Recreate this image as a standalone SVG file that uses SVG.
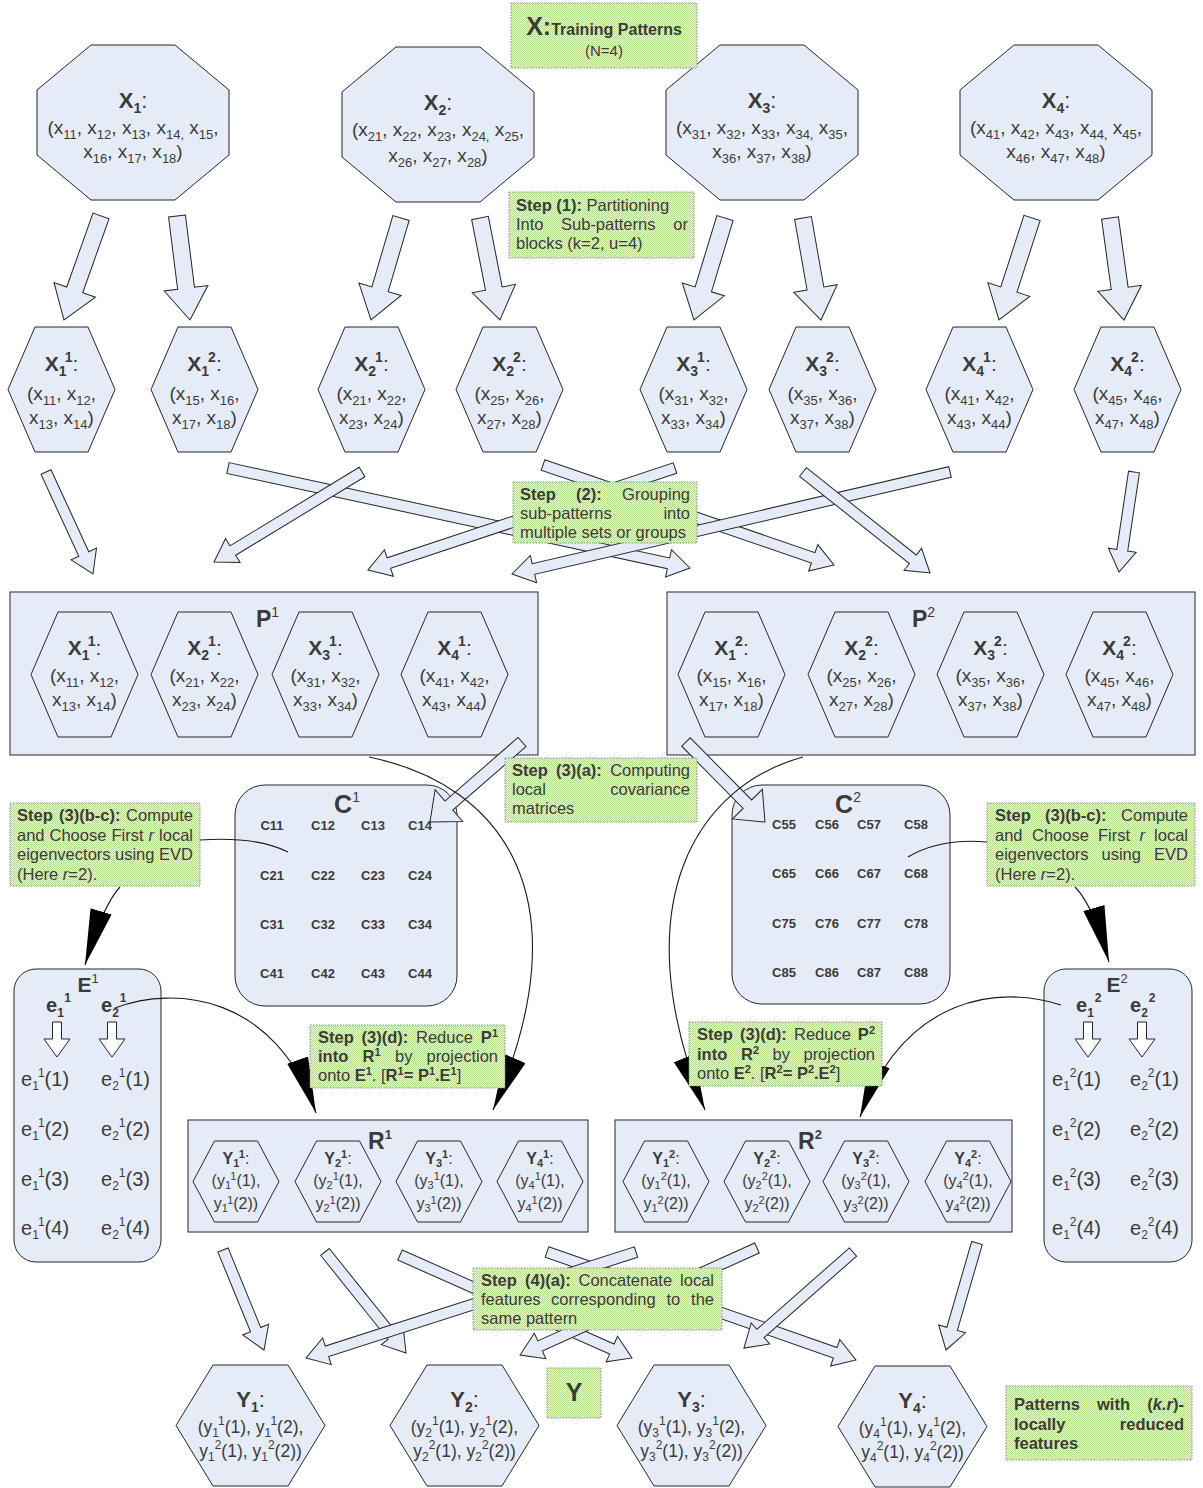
<svg xmlns="http://www.w3.org/2000/svg" width="1203" height="1488" viewBox="0 0 1203 1488">
<defs>
<style>
text{font-family:"Liberation Sans",Arial,Helvetica,sans-serif;fill:#3b3b3b}
.nd{fill:#E6ECF7;stroke:#262626;stroke-width:1}
.nt{fill:url(#dots);stroke:#7f9470;stroke-width:1;stroke-dasharray:1.5 1.5}
.ba{fill:#E6ECF7;stroke:#262626;stroke-width:1}
.cv{fill:none;stroke:#1a1a1a;stroke-width:1.1}
.da{fill:#fff;stroke:#262626;stroke-width:1}
.c{text-anchor:middle}
.e{text-anchor:end}
.b{font-weight:bold}
.r{font-weight:normal}
.i{font-style:italic}
.ol{font-size:19px;text-anchor:middle}
.olb{font-size:22px;font-weight:bold;text-anchor:middle}
.hlb{font-size:21px;font-weight:bold;text-anchor:middle}
.s{font-size:13px}
.sb{font-size:14px}
.nf{font-size:16.5px}
.cg{font-size:13px;font-weight:bold;text-anchor:middle}
.ef{font-size:20px}
.rl{font-size:16px;text-anchor:middle}
.rlb{font-size:16px;font-weight:bold;text-anchor:middle}
.ss{font-size:12px}
.sr{font-size:11px}
.sp{font-size:11px}
.yl{font-size:17.5px;text-anchor:middle}
.ylb{font-size:22px;font-weight:bold;text-anchor:middle}
</style>
<pattern id="dots" width="2" height="2" patternUnits="userSpaceOnUse">
<rect width="2" height="2" fill="#EEF7E4"/>
<rect width="1" height="1" fill="#B3D98C"/>
<rect x="1" y="1" width="1" height="1" fill="#B3D98C"/>
</pattern>
<polygon id="oc" points="54,0 138,0 192,45 192,110 138,155 54,155 0,110 0,45"/>
<polygon id="hx" points="27,0 80,0 107,62.5 80,125 27,125 0,62.5"/>
<polygon id="hr" points="21.5,0 64.5,0 86,40.5 64.5,81 21.5,81 0,40.5"/>
<polygon id="hy" points="37,0 112,0 149,60.5 112,121 37,121 0,60.5"/>
<polygon id="da" points="-4.5,0 4.5,0 4.5,17 13,17 0,35 -13,17 -4.5,17"/>
<marker id="ah" viewBox="0 0 56 22" refX="56" refY="11" markerWidth="56" markerHeight="22" markerUnits="userSpaceOnUse" orient="auto">
<path d="M0,0 L56,11 L0,22 z" fill="#000"/>
</marker>
</defs>
<rect width="1203" height="1488" fill="#fff"/>

<!-- training patterns (octagons) -->
<g id="X1">
<use href="#oc" x="37" y="45" class="nd"/>
<text class="olb" x="133" y="108">X<tspan class="sb" dy="5">1</tspan><tspan class="r" dy="-5">:</tspan></text>
<text class="ol" x="133" y="134">(x<tspan class="s" dy="5">11</tspan><tspan dy="-5">, x</tspan><tspan class="s" dy="5">12</tspan><tspan dy="-5">, x</tspan><tspan class="s" dy="5">13</tspan><tspan dy="-5">, x</tspan><tspan class="s" dy="5">14,</tspan><tspan dy="-5"> x</tspan><tspan class="s" dy="5">15</tspan><tspan dy="-5">,</tspan></text>
<text class="ol" x="133" y="158">x<tspan class="s" dy="5">16</tspan><tspan dy="-5">, x</tspan><tspan class="s" dy="5">17</tspan><tspan dy="-5">, x</tspan><tspan class="s" dy="5">18</tspan><tspan dy="-5">)</tspan></text>
</g>
<g id="X2">
<use href="#oc" x="342" y="47" class="nd"/>
<text class="olb" x="438" y="110">X<tspan class="sb" dy="5">2</tspan><tspan class="r" dy="-5">:</tspan></text>
<text class="ol" x="438" y="136">(x<tspan class="s" dy="5">21</tspan><tspan dy="-5">, x</tspan><tspan class="s" dy="5">22</tspan><tspan dy="-5">, x</tspan><tspan class="s" dy="5">23</tspan><tspan dy="-5">, x</tspan><tspan class="s" dy="5">24,</tspan><tspan dy="-5"> x</tspan><tspan class="s" dy="5">25</tspan><tspan dy="-5">,</tspan></text>
<text class="ol" x="438" y="162">x<tspan class="s" dy="5">26</tspan><tspan dy="-5">, x</tspan><tspan class="s" dy="5">27</tspan><tspan dy="-5">, x</tspan><tspan class="s" dy="5">28</tspan><tspan dy="-5">)</tspan></text>
</g>
<g id="X3">
<use href="#oc" x="666" y="45" class="nd"/>
<text class="olb" x="762" y="108">X<tspan class="sb" dy="5">3</tspan><tspan class="r" dy="-5">:</tspan></text>
<text class="ol" x="762" y="134">(x<tspan class="s" dy="5">31</tspan><tspan dy="-5">, x</tspan><tspan class="s" dy="5">32</tspan><tspan dy="-5">, x</tspan><tspan class="s" dy="5">33</tspan><tspan dy="-5">, x</tspan><tspan class="s" dy="5">34,</tspan><tspan dy="-5"> x</tspan><tspan class="s" dy="5">35</tspan><tspan dy="-5">,</tspan></text>
<text class="ol" x="762" y="158">x<tspan class="s" dy="5">36</tspan><tspan dy="-5">, x</tspan><tspan class="s" dy="5">37</tspan><tspan dy="-5">, x</tspan><tspan class="s" dy="5">38</tspan><tspan dy="-5">)</tspan></text>
</g>
<g id="X4">
<use href="#oc" x="960" y="45" class="nd"/>
<text class="olb" x="1056" y="108">X<tspan class="sb" dy="5">4</tspan><tspan class="r" dy="-5">:</tspan></text>
<text class="ol" x="1056" y="134">(x<tspan class="s" dy="5">41</tspan><tspan dy="-5">, x</tspan><tspan class="s" dy="5">42</tspan><tspan dy="-5">, x</tspan><tspan class="s" dy="5">43</tspan><tspan dy="-5">, x</tspan><tspan class="s" dy="5">44,</tspan><tspan dy="-5"> x</tspan><tspan class="s" dy="5">45</tspan><tspan dy="-5">,</tspan></text>
<text class="ol" x="1056" y="158">x<tspan class="s" dy="5">46</tspan><tspan dy="-5">, x</tspan><tspan class="s" dy="5">47</tspan><tspan dy="-5">, x</tspan><tspan class="s" dy="5">48</tspan><tspan dy="-5">)</tspan></text>
</g>

<!-- sub-patterns (hexagons) -->
<g id="X1_1">
<use href="#hx" x="8" y="327" class="nd"/>
<text class="hlb" x="61.5" y="371">X<tspan class="sb" dy="5">1</tspan><tspan class="sb" dx="-1" dy="-14">1</tspan><tspan class="r" dy="9">:</tspan></text>
<text class="ol" x="61.5" y="400">(x<tspan class="s" dy="5">11</tspan><tspan dy="-5">, x</tspan><tspan class="s" dy="5">12</tspan><tspan dy="-5">,</tspan></text>
<text class="ol" x="61.5" y="424">x<tspan class="s" dy="5">13</tspan><tspan dy="-5">, x</tspan><tspan class="s" dy="5">14</tspan><tspan dy="-5">)</tspan></text>
</g>
<g id="X1_2">
<use href="#hx" x="151" y="327" class="nd"/>
<text class="hlb" x="204.5" y="371">X<tspan class="sb" dy="5">1</tspan><tspan class="sb" dx="-1" dy="-14">2</tspan><tspan class="r" dy="9">:</tspan></text>
<text class="ol" x="204.5" y="400">(x<tspan class="s" dy="5">15</tspan><tspan dy="-5">, x</tspan><tspan class="s" dy="5">16</tspan><tspan dy="-5">,</tspan></text>
<text class="ol" x="204.5" y="424">x<tspan class="s" dy="5">17</tspan><tspan dy="-5">, x</tspan><tspan class="s" dy="5">18</tspan><tspan dy="-5">)</tspan></text>
</g>
<g id="X2_1">
<use href="#hx" x="318" y="327" class="nd"/>
<text class="hlb" x="371.5" y="371">X<tspan class="sb" dy="5">2</tspan><tspan class="sb" dx="-1" dy="-14">1</tspan><tspan class="r" dy="9">:</tspan></text>
<text class="ol" x="371.5" y="400">(x<tspan class="s" dy="5">21</tspan><tspan dy="-5">, x</tspan><tspan class="s" dy="5">22</tspan><tspan dy="-5">,</tspan></text>
<text class="ol" x="371.5" y="424">x<tspan class="s" dy="5">23</tspan><tspan dy="-5">, x</tspan><tspan class="s" dy="5">24</tspan><tspan dy="-5">)</tspan></text>
</g>
<g id="X2_2">
<use href="#hx" x="456" y="327" class="nd"/>
<text class="hlb" x="509.5" y="371">X<tspan class="sb" dy="5">2</tspan><tspan class="sb" dx="-1" dy="-14">2</tspan><tspan class="r" dy="9">:</tspan></text>
<text class="ol" x="509.5" y="400">(x<tspan class="s" dy="5">25</tspan><tspan dy="-5">, x</tspan><tspan class="s" dy="5">26</tspan><tspan dy="-5">,</tspan></text>
<text class="ol" x="509.5" y="424">x<tspan class="s" dy="5">27</tspan><tspan dy="-5">, x</tspan><tspan class="s" dy="5">28</tspan><tspan dy="-5">)</tspan></text>
</g>
<g id="X3_1">
<use href="#hx" x="640" y="327" class="nd"/>
<text class="hlb" x="693.5" y="371">X<tspan class="sb" dy="5">3</tspan><tspan class="sb" dx="-1" dy="-14">1</tspan><tspan class="r" dy="9">:</tspan></text>
<text class="ol" x="693.5" y="400">(x<tspan class="s" dy="5">31</tspan><tspan dy="-5">, x</tspan><tspan class="s" dy="5">32</tspan><tspan dy="-5">,</tspan></text>
<text class="ol" x="693.5" y="424">x<tspan class="s" dy="5">33</tspan><tspan dy="-5">, x</tspan><tspan class="s" dy="5">34</tspan><tspan dy="-5">)</tspan></text>
</g>
<g id="X3_2">
<use href="#hx" x="769" y="327" class="nd"/>
<text class="hlb" x="822.5" y="371">X<tspan class="sb" dy="5">3</tspan><tspan class="sb" dx="-1" dy="-14">2</tspan><tspan class="r" dy="9">:</tspan></text>
<text class="ol" x="822.5" y="400">(x<tspan class="s" dy="5">35</tspan><tspan dy="-5">, x</tspan><tspan class="s" dy="5">36</tspan><tspan dy="-5">,</tspan></text>
<text class="ol" x="822.5" y="424">x<tspan class="s" dy="5">37</tspan><tspan dy="-5">, x</tspan><tspan class="s" dy="5">38</tspan><tspan dy="-5">)</tspan></text>
</g>
<g id="X4_1">
<use href="#hx" x="926" y="327" class="nd"/>
<text class="hlb" x="979.5" y="371">X<tspan class="sb" dy="5">4</tspan><tspan class="sb" dx="-1" dy="-14">1</tspan><tspan class="r" dy="9">:</tspan></text>
<text class="ol" x="979.5" y="400">(x<tspan class="s" dy="5">41</tspan><tspan dy="-5">, x</tspan><tspan class="s" dy="5">42</tspan><tspan dy="-5">,</tspan></text>
<text class="ol" x="979.5" y="424">x<tspan class="s" dy="5">43</tspan><tspan dy="-5">, x</tspan><tspan class="s" dy="5">44</tspan><tspan dy="-5">)</tspan></text>
</g>
<g id="X4_2">
<use href="#hx" x="1074" y="327" class="nd"/>
<text class="hlb" x="1127.5" y="371">X<tspan class="sb" dy="5">4</tspan><tspan class="sb" dx="-1" dy="-14">2</tspan><tspan class="r" dy="9">:</tspan></text>
<text class="ol" x="1127.5" y="400">(x<tspan class="s" dy="5">45</tspan><tspan dy="-5">, x</tspan><tspan class="s" dy="5">46</tspan><tspan dy="-5">,</tspan></text>
<text class="ol" x="1127.5" y="424">x<tspan class="s" dy="5">47</tspan><tspan dy="-5">, x</tspan><tspan class="s" dy="5">48</tspan><tspan dy="-5">)</tspan></text>
</g>

<!-- group P1 -->
<g id="P1">
<rect x="10" y="592" width="528" height="163" class="nd"/>
<text x="256" y="627" class="b" font-size="23">P<tspan class="r" font-size="14" dy="-10">1</tspan></text>
<use href="#hx" x="31" y="612" class="nd"/>
<text class="hlb" x="84.5" y="655">X<tspan class="sb" dy="5">1</tspan><tspan class="sb" dx="-1" dy="-14">1</tspan><tspan class="r" dy="9">:</tspan></text>
<text class="ol" x="84.5" y="682">(x<tspan class="s" dy="5">11</tspan><tspan dy="-5">, x</tspan><tspan class="s" dy="5">12</tspan><tspan dy="-5">,</tspan></text>
<text class="ol" x="84.5" y="706">x<tspan class="s" dy="5">13</tspan><tspan dy="-5">, x</tspan><tspan class="s" dy="5">14</tspan><tspan dy="-5">)</tspan></text>
<use href="#hx" x="151" y="612" class="nd"/>
<text class="hlb" x="204.5" y="655">X<tspan class="sb" dy="5">2</tspan><tspan class="sb" dx="-1" dy="-14">1</tspan><tspan class="r" dy="9">:</tspan></text>
<text class="ol" x="204.5" y="682">(x<tspan class="s" dy="5">21</tspan><tspan dy="-5">, x</tspan><tspan class="s" dy="5">22</tspan><tspan dy="-5">,</tspan></text>
<text class="ol" x="204.5" y="706">x<tspan class="s" dy="5">23</tspan><tspan dy="-5">, x</tspan><tspan class="s" dy="5">24</tspan><tspan dy="-5">)</tspan></text>
<use href="#hx" x="272" y="612" class="nd"/>
<text class="hlb" x="325.5" y="655">X<tspan class="sb" dy="5">3</tspan><tspan class="sb" dx="-1" dy="-14">1</tspan><tspan class="r" dy="9">:</tspan></text>
<text class="ol" x="325.5" y="682">(x<tspan class="s" dy="5">31</tspan><tspan dy="-5">, x</tspan><tspan class="s" dy="5">32</tspan><tspan dy="-5">,</tspan></text>
<text class="ol" x="325.5" y="706">x<tspan class="s" dy="5">33</tspan><tspan dy="-5">, x</tspan><tspan class="s" dy="5">34</tspan><tspan dy="-5">)</tspan></text>
<use href="#hx" x="401" y="612" class="nd"/>
<text class="hlb" x="454.5" y="655">X<tspan class="sb" dy="5">4</tspan><tspan class="sb" dx="-1" dy="-14">1</tspan><tspan class="r" dy="9">:</tspan></text>
<text class="ol" x="454.5" y="682">(x<tspan class="s" dy="5">41</tspan><tspan dy="-5">, x</tspan><tspan class="s" dy="5">42</tspan><tspan dy="-5">,</tspan></text>
<text class="ol" x="454.5" y="706">x<tspan class="s" dy="5">43</tspan><tspan dy="-5">, x</tspan><tspan class="s" dy="5">44</tspan><tspan dy="-5">)</tspan></text>
</g>

<!-- group P2 -->
<g id="P2">
<rect x="667" y="592" width="528" height="163" class="nd"/>
<text x="912" y="627" class="b" font-size="23">P<tspan class="r" font-size="14" dy="-10">2</tspan></text>
<use href="#hx" x="678" y="612" class="nd"/>
<text class="hlb" x="731.5" y="655">X<tspan class="sb" dy="5">1</tspan><tspan class="sb" dx="-1" dy="-14">2</tspan><tspan class="r" dy="9">:</tspan></text>
<text class="ol" x="731.5" y="682">(x<tspan class="s" dy="5">15</tspan><tspan dy="-5">, x</tspan><tspan class="s" dy="5">16</tspan><tspan dy="-5">,</tspan></text>
<text class="ol" x="731.5" y="706">x<tspan class="s" dy="5">17</tspan><tspan dy="-5">, x</tspan><tspan class="s" dy="5">18</tspan><tspan dy="-5">)</tspan></text>
<use href="#hx" x="808" y="612" class="nd"/>
<text class="hlb" x="861.5" y="655">X<tspan class="sb" dy="5">2</tspan><tspan class="sb" dx="-1" dy="-14">2</tspan><tspan class="r" dy="9">:</tspan></text>
<text class="ol" x="861.5" y="682">(x<tspan class="s" dy="5">25</tspan><tspan dy="-5">, x</tspan><tspan class="s" dy="5">26</tspan><tspan dy="-5">,</tspan></text>
<text class="ol" x="861.5" y="706">x<tspan class="s" dy="5">27</tspan><tspan dy="-5">, x</tspan><tspan class="s" dy="5">28</tspan><tspan dy="-5">)</tspan></text>
<use href="#hx" x="937" y="612" class="nd"/>
<text class="hlb" x="990.5" y="655">X<tspan class="sb" dy="5">3</tspan><tspan class="sb" dx="-1" dy="-14">2</tspan><tspan class="r" dy="9">:</tspan></text>
<text class="ol" x="990.5" y="682">(x<tspan class="s" dy="5">35</tspan><tspan dy="-5">, x</tspan><tspan class="s" dy="5">36</tspan><tspan dy="-5">,</tspan></text>
<text class="ol" x="990.5" y="706">x<tspan class="s" dy="5">37</tspan><tspan dy="-5">, x</tspan><tspan class="s" dy="5">38</tspan><tspan dy="-5">)</tspan></text>
<use href="#hx" x="1066" y="612" class="nd"/>
<text class="hlb" x="1119.5" y="655">X<tspan class="sb" dy="5">4</tspan><tspan class="sb" dx="-1" dy="-14">2</tspan><tspan class="r" dy="9">:</tspan></text>
<text class="ol" x="1119.5" y="682">(x<tspan class="s" dy="5">45</tspan><tspan dy="-5">, x</tspan><tspan class="s" dy="5">46</tspan><tspan dy="-5">,</tspan></text>
<text class="ol" x="1119.5" y="706">x<tspan class="s" dy="5">47</tspan><tspan dy="-5">, x</tspan><tspan class="s" dy="5">48</tspan><tspan dy="-5">)</tspan></text>
</g>

<!-- covariance matrices -->
<g id="C1">
<rect x="235" y="785" width="222" height="221" rx="30" class="nd"/>
<text x="347" y="813" class="c b" font-size="25">C<tspan class="r" font-size="14" dy="-11">1</tspan></text>
<text class="cg" x="272" y="830">C11</text><text class="cg" x="323" y="830">C12</text><text class="cg" x="373" y="830">C13</text><text class="cg" x="420" y="830">C14</text>
<text class="cg" x="272" y="880">C21</text><text class="cg" x="323" y="880">C22</text><text class="cg" x="373" y="880">C23</text><text class="cg" x="420" y="880">C24</text>
<text class="cg" x="272" y="929">C31</text><text class="cg" x="323" y="929">C32</text><text class="cg" x="373" y="929">C33</text><text class="cg" x="420" y="929">C34</text>
<text class="cg" x="272" y="978">C41</text><text class="cg" x="323" y="978">C42</text><text class="cg" x="373" y="978">C43</text><text class="cg" x="420" y="978">C44</text>
</g>
<g id="C2">
<rect x="732" y="785" width="218" height="219" rx="30" class="nd"/>
<text x="848" y="813" class="c b" font-size="25">C<tspan class="r" font-size="14" dy="-11">2</tspan></text>
<text class="cg" x="784" y="829">C55</text><text class="cg" x="827" y="829">C56</text><text class="cg" x="869" y="829">C57</text><text class="cg" x="916" y="829">C58</text>
<text class="cg" x="784" y="878">C65</text><text class="cg" x="827" y="878">C66</text><text class="cg" x="869" y="878">C67</text><text class="cg" x="916" y="878">C68</text>
<text class="cg" x="784" y="928">C75</text><text class="cg" x="827" y="928">C76</text><text class="cg" x="869" y="928">C77</text><text class="cg" x="916" y="928">C78</text>
<text class="cg" x="784" y="977">C85</text><text class="cg" x="827" y="977">C86</text><text class="cg" x="869" y="977">C87</text><text class="cg" x="916" y="977">C88</text>
</g>

<!-- eigenvector sets -->
<g id="E1">
<rect x="14" y="969" width="147" height="293" rx="22" class="nd"/>
<text x="88" y="992" class="c b" font-size="21">E<tspan class="r" font-size="13" dy="-9">1</tspan></text>
<text x="46" y="1012" class="b ef">e<tspan class="ss" dy="5">1</tspan><tspan class="ss" dx="1" dy="-15">1</tspan></text>
<text x="101" y="1012" class="b ef">e<tspan class="ss" dy="5">2</tspan><tspan class="ss" dx="1" dy="-15">1</tspan></text>
<use href="#da" x="57" y="1022" class="da"/>
<use href="#da" x="112" y="1022" class="da"/>
<text x="21" y="1086" class="ef">e<tspan class="ss" dy="4">1</tspan><tspan class="ss" dy="-13">1</tspan><tspan dy="9">(1)</tspan></text>
<text x="101" y="1086" class="ef">e<tspan class="ss" dy="4">2</tspan><tspan class="ss" dy="-13">1</tspan><tspan dy="9">(1)</tspan></text>
<text x="21" y="1136" class="ef">e<tspan class="ss" dy="4">1</tspan><tspan class="ss" dy="-13">1</tspan><tspan dy="9">(2)</tspan></text>
<text x="101" y="1136" class="ef">e<tspan class="ss" dy="4">2</tspan><tspan class="ss" dy="-13">1</tspan><tspan dy="9">(2)</tspan></text>
<text x="21" y="1186" class="ef">e<tspan class="ss" dy="4">1</tspan><tspan class="ss" dy="-13">1</tspan><tspan dy="9">(3)</tspan></text>
<text x="101" y="1186" class="ef">e<tspan class="ss" dy="4">2</tspan><tspan class="ss" dy="-13">1</tspan><tspan dy="9">(3)</tspan></text>
<text x="21" y="1235" class="ef">e<tspan class="ss" dy="4">1</tspan><tspan class="ss" dy="-13">1</tspan><tspan dy="9">(4)</tspan></text>
<text x="101" y="1235" class="ef">e<tspan class="ss" dy="4">2</tspan><tspan class="ss" dy="-13">1</tspan><tspan dy="9">(4)</tspan></text>
</g>
<g id="E2">
<rect x="1044" y="969" width="148" height="293" rx="22" class="nd"/>
<text x="1117" y="992" class="c b" font-size="21">E<tspan class="r" font-size="13" dy="-9">2</tspan></text>
<text x="1076" y="1012" class="b ef">e<tspan class="ss" dy="5">1</tspan><tspan class="ss" dx="1" dy="-15">2</tspan></text>
<text x="1130" y="1012" class="b ef">e<tspan class="ss" dy="5">2</tspan><tspan class="ss" dx="1" dy="-15">2</tspan></text>
<use href="#da" x="1088" y="1022" class="da"/>
<use href="#da" x="1142" y="1022" class="da"/>
<text x="1052" y="1086" class="ef">e<tspan class="ss" dy="4">1</tspan><tspan class="ss" dy="-13">2</tspan><tspan dy="9">(1)</tspan></text>
<text x="1130" y="1086" class="ef">e<tspan class="ss" dy="4">2</tspan><tspan class="ss" dy="-13">2</tspan><tspan dy="9">(1)</tspan></text>
<text x="1052" y="1136" class="ef">e<tspan class="ss" dy="4">1</tspan><tspan class="ss" dy="-13">2</tspan><tspan dy="9">(2)</tspan></text>
<text x="1130" y="1136" class="ef">e<tspan class="ss" dy="4">2</tspan><tspan class="ss" dy="-13">2</tspan><tspan dy="9">(2)</tspan></text>
<text x="1052" y="1186" class="ef">e<tspan class="ss" dy="4">1</tspan><tspan class="ss" dy="-13">2</tspan><tspan dy="9">(3)</tspan></text>
<text x="1130" y="1186" class="ef">e<tspan class="ss" dy="4">2</tspan><tspan class="ss" dy="-13">2</tspan><tspan dy="9">(3)</tspan></text>
<text x="1052" y="1235" class="ef">e<tspan class="ss" dy="4">1</tspan><tspan class="ss" dy="-13">2</tspan><tspan dy="9">(4)</tspan></text>
<text x="1130" y="1235" class="ef">e<tspan class="ss" dy="4">2</tspan><tspan class="ss" dy="-13">2</tspan><tspan dy="9">(4)</tspan></text>
</g>

<!-- reduced groups -->
<g id="R1">
<rect x="188" y="1120" width="400" height="112" class="nd"/>
<text x="380" y="1149" class="c b" font-size="23">R<tspan font-size="13" dy="-10">1</tspan></text>
<use href="#hr" x="193" y="1141" class="nd"/>
<text class="rlb" x="236" y="1164">Y<tspan class="sr" dy="3">1</tspan><tspan class="sr" dy="-9">1</tspan><tspan class="r" dy="6">:</tspan></text>
<text class="rl" x="236" y="1186">(y<tspan class="sr" dy="3">1</tspan><tspan class="sr" dy="-9">1</tspan><tspan dy="6">(1),</tspan></text>
<text class="rl" x="236" y="1209">y<tspan class="sr" dy="3">1</tspan><tspan class="sr" dy="-8">1</tspan><tspan dy="5">(2))</tspan></text>
<use href="#hr" x="295" y="1141" class="nd"/>
<text class="rlb" x="338" y="1164">Y<tspan class="sr" dy="3">2</tspan><tspan class="sr" dy="-9">1</tspan><tspan class="r" dy="6">:</tspan></text>
<text class="rl" x="338" y="1186">(y<tspan class="sr" dy="3">2</tspan><tspan class="sr" dy="-9">1</tspan><tspan dy="6">(1),</tspan></text>
<text class="rl" x="338" y="1209">y<tspan class="sr" dy="3">2</tspan><tspan class="sr" dy="-8">1</tspan><tspan dy="5">(2))</tspan></text>
<use href="#hr" x="396" y="1141" class="nd"/>
<text class="rlb" x="439" y="1164">Y<tspan class="sr" dy="3">3</tspan><tspan class="sr" dy="-9">1</tspan><tspan class="r" dy="6">:</tspan></text>
<text class="rl" x="439" y="1186">(y<tspan class="sr" dy="3">3</tspan><tspan class="sr" dy="-9">1</tspan><tspan dy="6">(1),</tspan></text>
<text class="rl" x="439" y="1209">y<tspan class="sr" dy="3">3</tspan><tspan class="sr" dy="-8">1</tspan><tspan dy="5">(2))</tspan></text>
<use href="#hr" x="497" y="1141" class="nd"/>
<text class="rlb" x="540" y="1164">Y<tspan class="sr" dy="3">4</tspan><tspan class="sr" dy="-9">1</tspan><tspan class="r" dy="6">:</tspan></text>
<text class="rl" x="540" y="1186">(y<tspan class="sr" dy="3">4</tspan><tspan class="sr" dy="-9">1</tspan><tspan dy="6">(1),</tspan></text>
<text class="rl" x="540" y="1209">y<tspan class="sr" dy="3">4</tspan><tspan class="sr" dy="-8">1</tspan><tspan dy="5">(2))</tspan></text>
</g>
<g id="R2">
<rect x="615" y="1120" width="397" height="112" class="nd"/>
<text x="810" y="1149" class="c b" font-size="23">R<tspan font-size="13" dy="-10">2</tspan></text>
<use href="#hr" x="623" y="1141" class="nd"/>
<text class="rlb" x="666" y="1164">Y<tspan class="sr" dy="3">1</tspan><tspan class="sr" dy="-9">2</tspan><tspan class="r" dy="6">:</tspan></text>
<text class="rl" x="666" y="1186">(y<tspan class="sr" dy="3">1</tspan><tspan class="sr" dy="-9">2</tspan><tspan dy="6">(1),</tspan></text>
<text class="rl" x="666" y="1209">y<tspan class="sr" dy="3">1</tspan><tspan class="sr" dy="-8">2</tspan><tspan dy="5">(2))</tspan></text>
<use href="#hr" x="724" y="1141" class="nd"/>
<text class="rlb" x="767" y="1164">Y<tspan class="sr" dy="3">2</tspan><tspan class="sr" dy="-9">2</tspan><tspan class="r" dy="6">:</tspan></text>
<text class="rl" x="767" y="1186">(y<tspan class="sr" dy="3">2</tspan><tspan class="sr" dy="-9">2</tspan><tspan dy="6">(1),</tspan></text>
<text class="rl" x="767" y="1209">y<tspan class="sr" dy="3">2</tspan><tspan class="sr" dy="-8">2</tspan><tspan dy="5">(2))</tspan></text>
<use href="#hr" x="823" y="1141" class="nd"/>
<text class="rlb" x="866" y="1164">Y<tspan class="sr" dy="3">3</tspan><tspan class="sr" dy="-9">2</tspan><tspan class="r" dy="6">:</tspan></text>
<text class="rl" x="866" y="1186">(y<tspan class="sr" dy="3">3</tspan><tspan class="sr" dy="-9">2</tspan><tspan dy="6">(1),</tspan></text>
<text class="rl" x="866" y="1209">y<tspan class="sr" dy="3">3</tspan><tspan class="sr" dy="-8">2</tspan><tspan dy="5">(2))</tspan></text>
<use href="#hr" x="925" y="1141" class="nd"/>
<text class="rlb" x="968" y="1164">Y<tspan class="sr" dy="3">4</tspan><tspan class="sr" dy="-9">2</tspan><tspan class="r" dy="6">:</tspan></text>
<text class="rl" x="968" y="1186">(y<tspan class="sr" dy="3">4</tspan><tspan class="sr" dy="-9">2</tspan><tspan dy="6">(1),</tspan></text>
<text class="rl" x="968" y="1209">y<tspan class="sr" dy="3">4</tspan><tspan class="sr" dy="-8">2</tspan><tspan dy="5">(2))</tspan></text>
</g>

<!-- concatenated patterns -->
<g id="Y1">
<use href="#hy" x="176" y="1365" class="nd"/>
<text class="ylb" x="250.5" y="1407">Y<tspan class="sb" dy="5">1</tspan><tspan class="r" dy="-5">:</tspan></text>
<text class="yl" x="250.5" y="1433">(y<tspan class="ss" dy="4">1</tspan><tspan class="ss" dy="-12">1</tspan><tspan dy="8">(1), y</tspan><tspan class="ss" dy="4">1</tspan><tspan class="ss" dy="-12">1</tspan><tspan dy="8">(2),</tspan></text>
<text class="yl" x="250.5" y="1457">y<tspan class="ss" dy="4">1</tspan><tspan class="ss" dy="-12">2</tspan><tspan dy="8">(1), y</tspan><tspan class="ss" dy="4">1</tspan><tspan class="ss" dy="-12">2</tspan><tspan dy="8">(2))</tspan></text>
</g>
<g id="Y2">
<use href="#hy" x="390" y="1365" class="nd"/>
<text class="ylb" x="464.5" y="1407">Y<tspan class="sb" dy="5">2</tspan><tspan class="r" dy="-5">:</tspan></text>
<text class="yl" x="464.5" y="1433">(y<tspan class="ss" dy="4">2</tspan><tspan class="ss" dy="-12">1</tspan><tspan dy="8">(1), y</tspan><tspan class="ss" dy="4">2</tspan><tspan class="ss" dy="-12">1</tspan><tspan dy="8">(2),</tspan></text>
<text class="yl" x="464.5" y="1457">y<tspan class="ss" dy="4">2</tspan><tspan class="ss" dy="-12">2</tspan><tspan dy="8">(1), y</tspan><tspan class="ss" dy="4">2</tspan><tspan class="ss" dy="-12">2</tspan><tspan dy="8">(2))</tspan></text>
</g>
<g id="Y3">
<use href="#hy" x="617" y="1365" class="nd"/>
<text class="ylb" x="691.5" y="1407">Y<tspan class="sb" dy="5">3</tspan><tspan class="r" dy="-5">:</tspan></text>
<text class="yl" x="691.5" y="1433">(y<tspan class="ss" dy="4">3</tspan><tspan class="ss" dy="-12">1</tspan><tspan dy="8">(1), y</tspan><tspan class="ss" dy="4">3</tspan><tspan class="ss" dy="-12">1</tspan><tspan dy="8">(2),</tspan></text>
<text class="yl" x="691.5" y="1457">y<tspan class="ss" dy="4">3</tspan><tspan class="ss" dy="-12">2</tspan><tspan dy="8">(1), y</tspan><tspan class="ss" dy="4">3</tspan><tspan class="ss" dy="-12">2</tspan><tspan dy="8">(2))</tspan></text>
</g>
<g id="Y4">
<use href="#hy" x="838" y="1366" class="nd"/>
<text class="ylb" x="912.5" y="1408">Y<tspan class="sb" dy="5">4</tspan><tspan class="r" dy="-5">:</tspan></text>
<text class="yl" x="912.5" y="1434">(y<tspan class="ss" dy="4">4</tspan><tspan class="ss" dy="-12">1</tspan><tspan dy="8">(1), y</tspan><tspan class="ss" dy="4">4</tspan><tspan class="ss" dy="-12">1</tspan><tspan dy="8">(2),</tspan></text>
<text class="yl" x="912.5" y="1458">y<tspan class="ss" dy="4">4</tspan><tspan class="ss" dy="-12">2</tspan><tspan dy="8">(1), y</tspan><tspan class="ss" dy="4">4</tspan><tspan class="ss" dy="-12">2</tspan><tspan dy="8">(2))</tspan></text>
</g>

<!-- connectors -->
<g id="connectors">
<!-- step 1: partitioning -->
<polygon class="ba" transform="translate(101,216) rotate(109.58)" points="0,-8.5 78.4,-8.5 78.4,-22 110.4,0 78.4,22 78.4,8.5 0,8.5"/>
<polygon class="ba" transform="translate(177,216) rotate(82.87)" points="0,-8.5 72.8,-8.5 72.8,-22 104.8,0 72.8,22 72.8,8.5 0,8.5"/>
<polygon class="ba" transform="translate(401,218) rotate(106.39)" points="0,-8.5 74.3,-8.5 74.3,-22 106.3,0 74.3,22 74.3,8.5 0,8.5"/>
<polygon class="ba" transform="translate(480,218) rotate(78.91)" points="0,-8.5 71.9,-8.5 71.9,-22 103.9,0 71.9,22 71.9,8.5 0,8.5"/>
<polygon class="ba" transform="translate(725,218) rotate(106.91)" points="0,-8.5 74.6,-8.5 74.6,-22 106.6,0 74.6,22 74.6,8.5 0,8.5"/>
<polygon class="ba" transform="translate(803,218) rotate(79.99)" points="0,-8.5 71.6,-8.5 71.6,-22 103.6,0 71.6,22 71.6,8.5 0,8.5"/>
<polygon class="ba" transform="translate(1032,218) rotate(107.93)" points="0,-8.5 75.2,-8.5 75.2,-22 107.2,0 75.2,22 75.2,8.5 0,8.5"/>
<polygon class="ba" transform="translate(1110,218) rotate(82.18)" points="0,-8.5 71,-8.5 71,-22 103,0 71,22 71,8.5 0,8.5"/>
<!-- step 2: grouping -->
<polygon class="ba" transform="translate(46,472) rotate(65.27)" points="0,-5.5 90.3,-5.5 90.3,-14 112.3,0 90.3,14 90.3,5.5 0,5.5"/>
<polygon class="ba" transform="translate(228,468) rotate(12.21)" points="0,-5.5 450.7,-5.5 450.7,-14 472.7,0 450.7,14 450.7,5.5 0,5.5"/>
<polygon class="ba" transform="translate(362,472) rotate(148.69)" points="0,-5.5 151.2,-5.5 151.2,-14 173.2,0 151.2,14 151.2,5.5 0,5.5"/>
<polygon class="ba" transform="translate(543,465) rotate(18.96)" points="0,-5.5 285.7,-5.5 285.7,-14 307.7,0 285.7,14 285.7,5.5 0,5.5"/>
<polygon class="ba" transform="translate(675,468) rotate(161.62)" points="0,-5.5 301.5,-5.5 301.5,-14 323.5,0 301.5,14 301.5,5.5 0,5.5"/>
<polygon class="ba" transform="translate(950,472) rotate(166.89)" points="0,-5.5 427.7,-5.5 427.7,-14 449.7,0 427.7,14 427.7,5.5 0,5.5"/>
<polygon class="ba" transform="translate(803,472) rotate(38.49)" points="0,-5.5 140.3,-5.5 140.3,-14 162.3,0 140.3,14 140.3,5.5 0,5.5"/>
<polygon class="ba" transform="translate(1134,472) rotate(98.53)" points="0,-5.5 79.1,-5.5 79.1,-14 101.1,0 79.1,14 79.1,5.5 0,5.5"/>
<!-- step 3(a): covariance -->
<polygon class="ba" transform="translate(522,742) rotate(138.99)" points="0,-6 96.9,-6 96.9,-21 121.9,0 96.9,21 96.9,6 0,6"/>
<polygon class="ba" transform="translate(686,742) rotate(45.36)" points="0,-6 87.4,-6 87.4,-21 112.4,0 87.4,21 87.4,6 0,6"/>
<!-- steps 3(b-c) and 3(d) -->
<path class="cv" d="M200,840 Q255,836 288,852"/>
<path class="cv" d="M120,887 Q103,905 85,965" marker-end="url(#ah)"/>
<path class="cv" d="M987,842 Q940,838 908,857"/>
<path class="cv" d="M1075,887 Q1093,905 1109,962" marker-end="url(#ah)"/>
<path class="cv" d="M369,757 C505,785 585,900 493,1110" marker-end="url(#ah)"/>
<path class="cv" d="M803,757 C700,785 620,900 705,1110" marker-end="url(#ah)"/>
<path class="cv" d="M115,1008 C175,985 275,995 316,1113" marker-end="url(#ah)"/>
<path class="cv" d="M1061,1005 C1000,985 905,995 860,1117" marker-end="url(#ah)"/>
<!-- step 4: concatenation -->
<polygon class="ba" transform="translate(223,1250) rotate(67.71)" points="0,-5.5 86.1,-5.5 86.1,-14 108.1,0 86.1,14 86.1,5.5 0,5.5"/>
<polygon class="ba" transform="translate(325,1252) rotate(51.27)" points="0,-5.5 107.5,-5.5 107.5,-14 129.5,0 107.5,14 107.5,5.5 0,5.5"/>
<polygon class="ba" transform="translate(400,1255) rotate(23.94)" points="0,-5.5 231.8,-5.5 231.8,-14 253.8,0 231.8,14 231.8,5.5 0,5.5"/>
<polygon class="ba" transform="translate(547,1252) rotate(19.27)" points="0,-5.5 305.3,-5.5 305.3,-14 327.3,0 305.3,14 305.3,5.5 0,5.5"/>
<polygon class="ba" transform="translate(636,1252) rotate(162.19)" points="0,-5.5 324.6,-5.5 324.6,-14 346.6,0 324.6,14 324.6,5.5 0,5.5"/>
<polygon class="ba" transform="translate(757,1248) rotate(155.70)" points="0,-5.5 238,-5.5 238,-14 260,0 238,14 238,5.5 0,5.5"/>
<polygon class="ba" transform="translate(853,1252) rotate(138.63)" points="0,-5.5 123.3,-5.5 123.3,-14 145.3,0 123.3,14 123.3,5.5 0,5.5"/>
<polygon class="ba" transform="translate(977,1243) rotate(106.16)" points="0,-5.5 89.4,-5.5 89.4,-14 111.4,0 89.4,14 89.4,5.5 0,5.5"/>
</g>

<!-- notes -->
<g id="note_title">
<rect x="511" y="3" width="186" height="65" class="nt"/>
<text x="604" y="35" class="c b"><tspan font-size="25">X:</tspan><tspan font-size="16">Training Patterns</tspan></text>
<text x="604" y="56" class="c" font-size="15">(N=4)</text>
</g>
<g id="note_step1">
<rect x="509" y="192" width="185" height="66" class="nt"/>
<text x="516" y="211" class="nf"><tspan class="b">Step (1):</tspan> Partitioning</text>
<text y="230" class="nf"><tspan x="516">Into</tspan><tspan x="561">Sub-patterns</tspan></text>
<text x="688" y="230" class="nf e">or</text>
<text x="516" y="249" class="nf">blocks (k=2, u=4)</text>
</g>
<g id="note_step2">
<rect x="513" y="482" width="184" height="61" class="nt"/>
<text y="500" class="nf b"><tspan x="520">Step</tspan><tspan x="576">(2):</tspan></text>
<text x="690" y="500" class="nf e">Grouping</text>
<text x="520" y="519" class="nf">sub-patterns</text>
<text x="690" y="519" class="nf e">into</text>
<text x="520" y="538" class="nf">multiple sets or groups</text>
</g>
<g id="note_step3a">
<rect x="505" y="758" width="192" height="64" class="nt"/>
<text y="776" class="nf b"><tspan x="512">Step</tspan><tspan x="556">(3)(a):</tspan></text>
<text x="690" y="776" class="nf e">Computing</text>
<text x="512" y="795" class="nf">local</text>
<text x="690" y="795" class="nf e">covariance</text>
<text x="512" y="814" class="nf">matrices</text>
</g>
<g id="note_step3bc_1">
<rect x="10" y="803" width="190" height="83" class="nt"/>
<text y="821" class="nf b"><tspan x="17">Step</tspan><tspan x="59">(3)(b-c):</tspan></text>
<text x="193" y="821" class="nf e">Compute</text>
<text y="841" class="nf"><tspan x="17">and</tspan><tspan x="49.5">Choose</tspan><tspan x="111.4">First</tspan><tspan x="148.5" class="i">r</tspan></text>
<text x="193" y="841" class="nf e">local</text>
<text y="860" class="nf"><tspan x="17">eigenvectors</tspan><tspan x="115">using</tspan></text>
<text x="193" y="860" class="nf e">EVD</text>
<text x="17" y="880" class="nf">(Here <tspan class="i">r</tspan>=2).</text>
</g>
<g id="note_step3bc_2">
<rect x="987" y="803" width="208" height="83" class="nt"/>
<text y="821" class="nf b"><tspan x="995">Step</tspan><tspan x="1045">(3)(b-c):</tspan></text>
<text x="1188" y="821" class="nf e">Compute</text>
<text y="841" class="nf"><tspan x="995">and</tspan><tspan x="1032">Choose</tspan><tspan x="1098">First</tspan><tspan x="1139.5" class="i">r</tspan></text>
<text x="1188" y="841" class="nf e">local</text>
<text y="860" class="nf"><tspan x="995">eigenvectors</tspan><tspan x="1101.5">using</tspan></text>
<text x="1188" y="860" class="nf e">EVD</text>
<text x="995" y="880" class="nf">(Here <tspan class="i">r</tspan>=2).</text>
</g>
<g id="note_step3d_1">
<rect x="310" y="1025" width="195" height="63" class="nt"/>
<text y="1043" class="nf"><tspan x="318" class="b">Step</tspan><tspan x="361.5" class="b">(3)(d):</tspan><tspan x="416">Reduce</tspan></text>
<text x="498" y="1043" class="nf e b">P<tspan class="sp" dy="-6">1</tspan></text>
<text y="1062" class="nf b"><tspan x="318">into</tspan><tspan x="362.5">R</tspan><tspan class="sp" dy="-6">1</tspan></text>
<text x="395" y="1062" class="nf">by</text>
<text x="498" y="1062" class="nf e">projection</text>
<text x="318" y="1081" class="nf">onto <tspan class="b">E</tspan><tspan class="sp b" dy="-6">1</tspan><tspan dy="6">. [</tspan><tspan class="b">R</tspan><tspan class="sp b" dy="-6">1</tspan><tspan class="b" dy="6">= P</tspan><tspan class="sp b" dy="-6">1</tspan><tspan class="b" dy="6">.E</tspan><tspan class="sp b" dy="-6">1</tspan><tspan dy="6">]</tspan></text>
</g>
<g id="note_step3d_2">
<rect x="689" y="1022" width="193" height="64" class="nt"/>
<text y="1040" class="nf"><tspan x="697" class="b">Step</tspan><tspan x="740" class="b">(3)(d):</tspan><tspan x="794">Reduce</tspan></text>
<text x="875" y="1040" class="nf e b">P<tspan class="sp" dy="-6">2</tspan></text>
<text y="1060" class="nf b"><tspan x="697">into</tspan><tspan x="741">R</tspan><tspan class="sp" dy="-6">2</tspan></text>
<text x="772.5" y="1060" class="nf">by</text>
<text x="875" y="1060" class="nf e">projection</text>
<text x="697" y="1079" class="nf">onto <tspan class="b">E</tspan><tspan class="sp b" dy="-6">2</tspan><tspan dy="6">. [</tspan><tspan class="b">R</tspan><tspan class="sp b" dy="-6">2</tspan><tspan class="b" dy="6">= P</tspan><tspan class="sp b" dy="-6">2</tspan><tspan class="b" dy="6">.E</tspan><tspan class="sp b" dy="-6">2</tspan><tspan dy="6">]</tspan></text>
</g>
<g id="note_step4a">
<rect x="473" y="1268" width="249" height="62" class="nt"/>
<text y="1286" class="nf"><tspan x="481" class="b">Step</tspan><tspan x="525" class="b">(4)(a):</tspan><tspan x="578.5">Concatenate</tspan></text>
<text x="714" y="1286" class="nf e">local</text>
<text y="1305" class="nf"><tspan x="481">features</tspan><tspan x="551">corresponding</tspan><tspan x="666.5">to</tspan></text>
<text x="714" y="1305" class="nf e">the</text>
<text x="481" y="1324" class="nf">same pattern</text>
</g>
<g id="note_Y">
<rect x="547" y="1368" width="54" height="50" class="nt"/>
<text x="574" y="1401" class="c b" font-size="25">Y</text>
</g>
<g id="note_reduced">
<rect x="1006" y="1386" width="186" height="74" class="nt"/>
<text y="1410" class="nf b"><tspan x="1014">Patterns</tspan><tspan x="1097">with</tspan></text>
<text x="1184" y="1410" class="nf b e">(<tspan class="i">k.r</tspan>)-</text>
<text x="1014" y="1430" class="nf b">locally</text>
<text x="1184" y="1430" class="nf b e">reduced</text>
<text x="1014" y="1449" class="nf b">features</text>
</g>
</svg>
